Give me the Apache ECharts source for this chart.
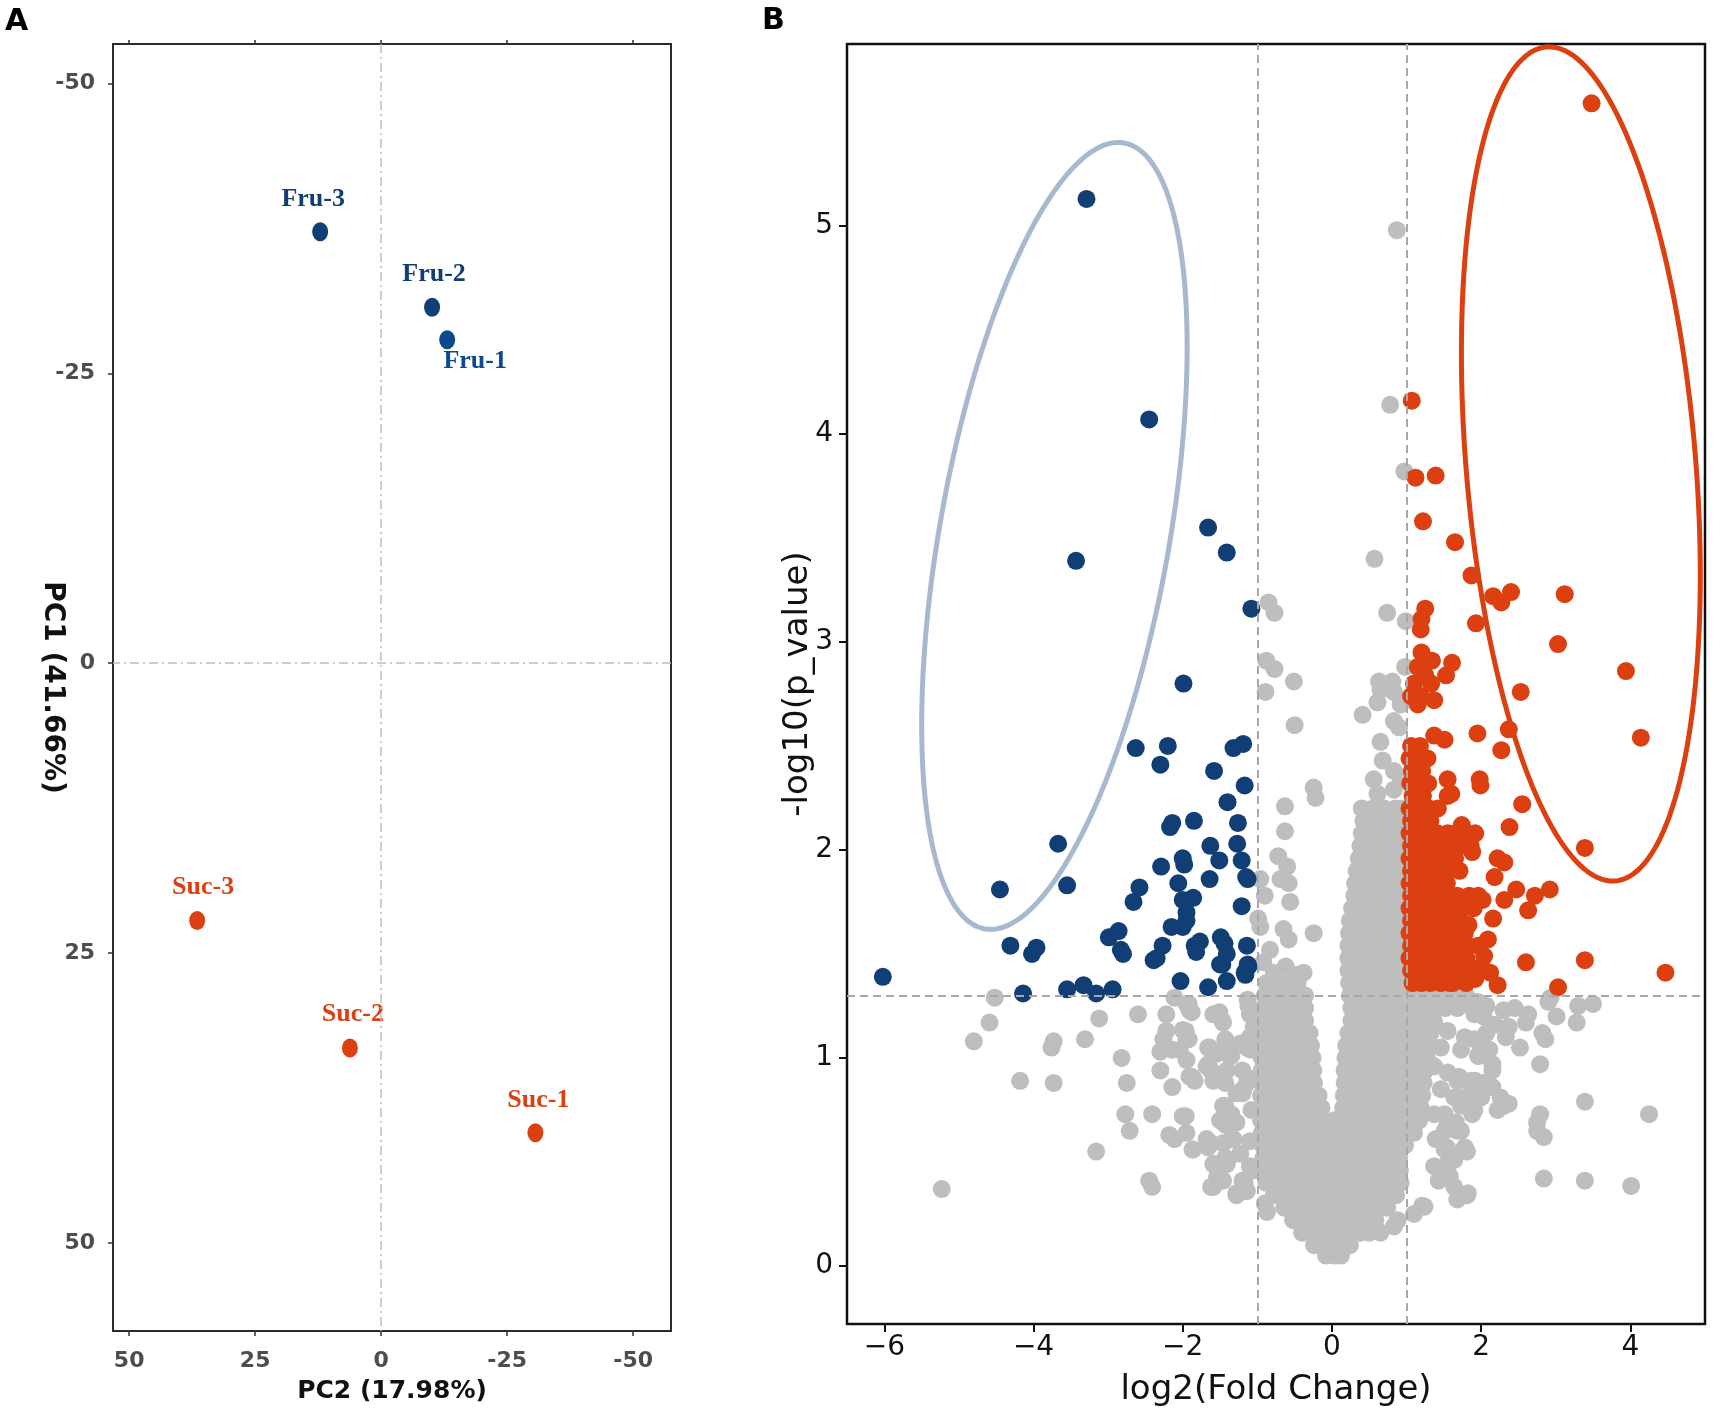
<!DOCTYPE html>
<html>
<head>
<meta charset="utf-8">
<script src="https://cdn.jsdelivr.net/npm/echarts@6.0.0/dist/echarts.min.js"></script>
<style>
html,body{margin:0;padding:0;background:#fff;}
#chart{width:1713px;height:1413px;}
</style>
</head>
<body>
<div id="chart"></div>
<script>
// ---------------- DATA ----------------
// Panel A: PCA scores
const pcaNames = ['Fru-1', 'Fru-2', 'Fru-3', 'Suc-1', 'Suc-2', 'Suc-3'];
const pcaPC2 = [-13.1, -10.1, 12.1, -30.6, 6.2, 36.5];
const pcaPC1 = [-27.9, -30.7, -37.2, 40.5, 33.2, 22.2];
const pcaTicks = [-50, -25, 0, 25, 50];

// Panel B: volcano plot  [log2FC, -log10(p)]
const volcanoXTicks = [-6, -4, -2, 0, 2, 4];
const volcanoYTicks = [0, 1, 2, 3, 4, 5];
const fcCut = [-1, 1];
const pCut = 1.301;

// down-regulated (blue)
const downPts = [
 [-3.29,5.13],[-2.45,4.07],[-3.43,3.39],[-1.66,3.55],[-1.41,3.43],[-1.08,3.16],[-1.99,2.80],
 [-2.63,2.49],[-2.20,2.50],[-2.30,2.41],[-1.32,2.49],[-1.19,2.51],[-1.58,2.38],[-1.17,2.31],
 [-1.40,2.23],[-1.26,2.13],[-2.14,2.13],[-2.17,2.11],[-1.85,2.14],[-1.63,2.02],[-1.27,2.03],
 [-1.51,1.95],[-2.00,1.96],[-1.98,1.93],[-2.29,1.92],[-1.21,1.95],[-1.15,1.87],[-1.13,1.86],
 [-1.64,1.86],[-2.06,1.84],[-2.58,1.82],[-2.66,1.75],[-2.00,1.76],[-1.86,1.77],[-1.21,1.73],
 [-1.95,1.70],[-1.95,1.66],[-2.15,1.63],[-2.00,1.63],[-2.86,1.61],[-2.99,1.58],[-2.83,1.52],
 [-2.27,1.54],[-2.39,1.47],[-1.84,1.54],[-1.77,1.56],[-1.49,1.58],[-1.44,1.55],[-1.41,1.50],
 [-1.14,1.54],[-1.50,1.45],[-1.12,1.44],[-1.16,1.40],[-1.41,1.37],[-2.03,1.37],[-1.66,1.34],
 [-4.45,1.81],[-3.67,2.03],[-3.55,1.83],[-4.31,1.54],[-4.02,1.50],[-3.96,1.53],[-6.02,1.39],
 [-4.14,1.31],[-3.55,1.33],[-3.33,1.35],[-3.16,1.31],[-2.94,1.33],[-2.80,1.50],[-2.35,1.48],
 [-1.47,1.45],[-1.17,1.41],[-1.13,1.45],[-1.82,1.51]
];

// up-regulated (red): isolated points
const upPts = [
 [3.48,5.59],[1.07,4.16],[1.12,3.79],[1.39,3.80],[1.22,3.58],[1.65,3.48],[1.87,3.32],
 [2.16,3.22],[2.27,3.19],[2.40,3.24],[3.12,3.23],[1.93,3.09],[1.25,3.16],[1.20,3.11],
 [1.19,3.06],[3.03,2.99],[1.20,2.95],[1.34,2.91],[1.61,2.90],[1.53,2.84],[1.15,2.88],
 [1.33,2.80],[1.37,2.72],[1.19,2.74],[1.06,2.74],[1.15,2.70],[3.94,2.86],[2.53,2.76],
 [4.14,2.54],[1.95,2.56],[2.37,2.58],[2.27,2.48],[1.37,2.55],[1.51,2.53],[1.98,2.34],
 [1.99,2.31],[2.55,2.22],[2.38,2.11],[3.39,2.01],[2.22,1.96],[2.31,1.94],[2.18,1.87],
 [2.92,1.81],[2.72,1.78],[2.63,1.71],[2.47,1.81],[2.31,1.76],[2.16,1.67],[2.02,1.76],
 [2.09,1.57],[2.60,1.46],[3.39,1.47],[4.47,1.41],[3.03,1.34],[2.22,1.35],[2.00,1.44],
 [1.78,1.41],[1.58,1.36],[1.55,2.34],[1.55,2.26],[1.60,2.27],[1.10,2.80],[1.25,2.84],
 [1.74,2.12],[1.88,1.99],[1.83,1.64],[2.04,1.49],[1.92,1.38],[2.12,1.41]
];
// up-regulated (red): dense block, rows of [y, x1, x2, ...]
const upRows = [
 [2.50, 1.06, 1.18],
 [2.44, 1.04, 1.16, 1.28],
 [2.38, 1.07, 1.21],
 [2.32, 1.05, 1.17, 1.29],
 [2.26, 1.08, 1.22],
 [2.20, 1.04, 1.16, 1.30, 1.42],
 [2.14, 1.06, 1.19, 1.32],
 [2.08, 1.04, 1.16, 1.28, 1.41, 1.55, 1.66, 1.80, 1.92],
 [2.02, 1.06, 1.18, 1.31, 1.44, 1.58, 1.72, 1.86],
 [1.96, 1.04, 1.16, 1.28, 1.41, 1.52, 1.65],
 [1.90, 1.06, 1.19, 1.31, 1.43, 1.57, 1.71],
 [1.84, 1.04, 1.16, 1.28, 1.40, 1.54],
 [1.78, 1.06, 1.18, 1.30, 1.43, 1.55, 1.68, 1.84, 1.96],
 [1.72, 1.04, 1.16, 1.29, 1.41, 1.52, 1.64, 1.76, 1.90],
 [1.66, 1.06, 1.18, 1.30, 1.42, 1.56, 1.70],
 [1.60, 1.04, 1.16, 1.28, 1.40, 1.52, 1.64, 1.78],
 [1.54, 1.06, 1.18, 1.31, 1.43, 1.54, 1.68, 1.82, 1.96],
 [1.48, 1.04, 1.16, 1.28, 1.40, 1.53, 1.66, 1.80],
 [1.42, 1.06, 1.18, 1.30, 1.42, 1.56, 1.72, 1.86],
 [1.36, 1.08, 1.20, 1.32, 1.46, 1.62, 1.80]
];

// not significant (gray): isolated points
const nsPts = [
 // above the p threshold
 [0.87,4.98],[0.78,4.14],[0.97,3.82],[0.57,3.40],[-0.85,3.19],[-0.77,3.14],[0.74,3.14],
 [0.99,3.10],[-0.88,2.91],[-0.77,2.87],[0.98,2.88],[-0.51,2.81],[0.63,2.81],[0.81,2.81],
 [-0.89,2.76],[-0.50,2.60],[0.65,2.77],[0.61,2.71],[0.83,2.76],[0.92,2.70],[0.41,2.65],
 [0.83,2.62],[0.90,2.59],[0.65,2.52],[0.68,2.43],[0.83,2.38],[0.92,2.35],[0.56,2.34],
 [0.61,2.27],[0.83,2.29],[0.47,2.18],[0.79,2.78],
 [-0.245,2.30],[-0.22,2.25],[-0.63,2.21],[-0.63,2.09],[-0.72,1.97],[-0.60,1.92],[-0.69,1.86],
 [-0.58,1.84],[-0.96,1.86],[-0.90,1.78],[-0.56,1.75],[-0.99,1.67],[-0.96,1.63],[-0.65,1.62],
 [-0.58,1.57],[-0.245,1.60],[-0.83,1.52],[-0.92,1.46],[-0.78,1.41],[-0.38,1.41],[-0.62,1.44],
 [-0.48,1.40],
 // left, below threshold
 [-4.52,1.29],[-4.59,1.17],[-4.80,1.08],[-5.23,0.37],[-4.18,0.89],[-3.73,0.88],[-3.76,1.05],
 [-3.73,1.08],[-3.31,1.09],[-3.12,1.19],[-3.16,0.55],[-2.82,1.00],[-2.75,0.88],[-2.71,0.65],
 [-2.77,0.73],[-2.60,1.21],[-2.41,0.73],[-2.45,0.41],[-2.41,0.38],[-2.30,0.94],[-2.14,0.86],
 [-2.18,0.63],[-2.11,1.29],[-2.22,1.21],[-2.22,1.13],[-2.26,1.09],[-2.14,1.04],[-2.30,1.03],
 [-1.96,1.13],[-1.92,1.09],[-2.04,1.04],[-1.92,1.26],[-1.88,1.22],[-2.11,0.61],[-1.96,0.72],
 [-1.88,0.91],[-1.84,0.89],[-1.87,0.56],[-1.66,0.97],[-1.62,0.94],[-1.66,1.05],[-1.66,0.57],
 [-1.62,0.59],[-1.58,0.49],[-1.54,0.43],[-1.62,0.38],[-1.43,1.09],[-1.47,1.18],[-1.51,1.22],
 [-1.43,1.04],[-1.35,1.01],[-1.43,0.88],[-1.43,0.77],[-1.35,0.73],[-1.43,0.68],[-1.35,0.61],
 [-1.43,0.52],[-1.40,0.51],[-1.28,0.34],[-1.20,0.41],[-1.17,0.40],[-1.20,0.83],[-1.20,0.94],
 [-1.09,1.04],[-1.05,1.15],[-1.13,1.28],[-1.12,1.25],[-0.90,0.30],[-0.87,0.26],
 [-1.95,1.26],[-1.91,1.23],[-2.00,1.135],[-1.95,1.09],[-1.59,1.21],[-1.46,1.17],[-1.64,1.05],
 [-1.55,1.02],[-1.37,1.01],[-1.95,0.99],[-1.91,0.91],[-1.68,0.96],[-1.59,0.89],[-1.41,0.94],
 [-1.23,1.07],[-1.14,1.05],[-1.28,0.83],[-1.19,0.85],[-1.14,0.88],[-1.46,0.77],[-1.50,0.70],
 [-1.37,0.72],[-1.28,0.69],[-2.00,0.72],[-1.95,0.64],[-1.68,0.61],[-1.86,0.56],[-1.46,0.59],
 [-1.32,0.61],[-1.59,0.49],[-1.41,0.49],[-1.23,0.54],[-1.10,0.48],[-1.59,0.38],[-1.46,0.41],
 [-1.28,0.35],[-1.14,0.36],[-1.10,1.21],[-1.01,1.17],[-1.10,0.60],[-1.08,0.75],[-1.06,0.90],
 [-1.10,1.10],[-1.05,0.46],
 // right, below threshold
 [1.24,0.285],[1.70,0.33],[1.81,0.34],[1.58,0.43],[1.43,0.41],[1.54,0.49],[1.62,0.54],
 [1.81,0.55],[1.54,0.57],[1.39,0.61],[1.51,0.65],[1.73,0.65],[1.66,0.69],[1.51,0.73],
 [1.88,0.73],[1.73,0.77],[1.70,0.81],[1.85,0.83],[2.00,0.81],[2.26,0.81],[2.30,0.77],
 [2.22,0.75],[2.37,0.78],[1.70,0.91],[1.92,0.89],[2.03,0.88],[2.15,0.86],[1.96,1.01],
 [2.11,1.04],[2.15,0.97],[2.15,0.94],[2.00,1.05],[2.07,1.12],[2.33,1.10],[2.52,1.05],
 [2.37,1.15],[2.18,1.16],[2.03,1.20],[1.96,1.24],[2.30,1.23],[2.45,1.24],[2.63,1.21],
 [2.60,1.17],[2.82,1.12],[2.86,1.09],[2.79,0.97],[3.01,1.20],[3.28,1.17],[2.90,1.27],
 [3.50,1.26],[2.93,1.29],[3.39,0.79],[4.25,0.73],[2.79,0.73],[2.75,0.69],[2.75,0.65],
 [2.84,0.62],[2.84,0.42],[3.39,0.41],[4.01,0.385],[3.30,1.25],[1.95,1.27],[2.07,1.25],
 [1.19,1.26],[1.37,1.28],[1.55,1.28],[1.78,1.26],[1.91,1.21],[1.37,1.17],[1.55,1.13],
 [1.78,1.10],[1.91,1.09],[1.46,1.05],[1.73,1.04],[1.96,1.01],[1.37,0.96],[1.55,0.93],
 [1.68,0.89],[1.86,0.89],[1.46,0.85],[1.64,0.81],[1.78,0.78],[1.91,0.75],[1.37,0.73],
 [1.55,0.69],[1.68,0.65],[1.78,0.57],[1.51,0.56],[1.64,0.51],[1.37,0.48],[1.55,0.45],
 [1.64,0.38],[1.82,0.35],[1.68,0.32],[1.21,0.29],[1.10,0.25],[0.88,0.22],[0.83,0.19],
 [0.65,0.16]
];
// not significant (gray): dense core, rows of [y, x1, x2, ...]
const nsRows = [
 [2.20, 0.40, 0.55, 0.70, 0.85, 0.95],
 [2.14, 0.42, 0.57, 0.72, 0.87],
 [2.08, 0.40, 0.54, 0.68, 0.82, 0.95],
 [2.02, 0.38, 0.52, 0.66, 0.80, 0.94],
 [1.96, 0.36, 0.50, 0.64, 0.78, 0.92],
 [1.90, 0.33, 0.47, 0.61, 0.75, 0.89, 0.97],
 [1.84, 0.31, 0.45, 0.59, 0.73, 0.87, 0.96],
 [1.78, 0.30, 0.44, 0.58, 0.72, 0.86, 0.96],
 [1.72, 0.27, 0.41, 0.55, 0.69, 0.83, 0.95],
 [1.66, 0.24, 0.38, 0.52, 0.66, 0.80, 0.94],
 [1.60, 0.23, 0.37, 0.51, 0.65, 0.79, 0.93],
 [1.54, 0.22, 0.36, 0.50, 0.64, 0.78, 0.92],
 [1.48, 0.22, 0.36, 0.50, 0.64, 0.78, 0.92],
 [1.42, 0.22, 0.36, 0.50, 0.64, 0.78, 0.92],
 [1.36, -0.88, -0.74, -0.60, -0.46, 0.23, 0.37, 0.51, 0.65, 0.79, 0.93],
 [1.30, -0.90, -0.76, -0.62, -0.48, -0.36, 0.24, 0.38, 0.52, 0.66, 0.80, 0.94, 1.08, 1.22, 1.36, 1.50, 1.64, 1.80],
 [1.24, -0.92, -0.78, -0.64, -0.50, -0.36, 0.26, 0.40, 0.54, 0.68, 0.82, 0.96, 1.10, 1.24, 1.38, 1.52, 1.68],
 [1.18, -0.92, -0.78, -0.64, -0.50, -0.36, 0.26, 0.40, 0.54, 0.68, 0.82, 0.96, 1.10, 1.24, 1.36],
 [1.12, -0.93, -0.79, -0.65, -0.51, -0.37, -0.30, 0.22, 0.36, 0.50, 0.64, 0.78, 0.92, 1.06, 1.20, 1.32],
 [1.06, -0.93, -0.79, -0.65, -0.51, -0.37, -0.28, 0.19, 0.33, 0.47, 0.61, 0.75, 0.89, 1.03, 1.17, 1.29],
 [1.00, -0.94, -0.80, -0.66, -0.52, -0.38, -0.26, 0.18, 0.32, 0.46, 0.60, 0.74, 0.88, 1.02, 1.16, 1.27],
 [0.94, -0.94, -0.80, -0.66, -0.52, -0.38, -0.25, 0.17, 0.31, 0.45, 0.59, 0.73, 0.87, 1.01, 1.14, 1.25],
 [0.88, -0.94, -0.80, -0.66, -0.52, -0.38, -0.24, 0.17, 0.31, 0.45, 0.59, 0.73, 0.87, 1.01, 1.13, 1.23],
 [0.82, -0.95, -0.81, -0.67, -0.53, -0.39, -0.25, -0.18, 0.16, 0.30, 0.44, 0.58, 0.72, 0.86, 1.00, 1.12, 1.21],
 [0.76, -0.95, -0.81, -0.67, -0.53, -0.39, -0.25, -0.14, 0.15, 0.29, 0.43, 0.57, 0.71, 0.85, 0.99, 1.10, 1.19],
 [0.70, -0.95, -0.81, -0.67, -0.53, -0.39, -0.25, -0.11, 0.03, 0.14, 0.28, 0.42, 0.56, 0.70, 0.84, 0.97, 1.08, 1.17],
 [0.64, -0.94, -0.80, -0.66, -0.52, -0.38, -0.24, -0.10, 0.04, 0.18, 0.32, 0.46, 0.60, 0.74, 0.88, 0.98, 1.10],
 [0.58, -0.93, -0.79, -0.65, -0.51, -0.37, -0.23, -0.09, 0.05, 0.19, 0.33, 0.47, 0.61, 0.75, 0.89, 0.98],
 [0.52, -0.92, -0.78, -0.64, -0.50, -0.36, -0.22, -0.08, 0.06, 0.20, 0.34, 0.48, 0.62, 0.76, 0.90],
 [0.46, -0.91, -0.77, -0.63, -0.49, -0.35, -0.21, -0.07, 0.07, 0.21, 0.35, 0.49, 0.63, 0.77, 0.91],
 [0.40, -0.88, -0.74, -0.60, -0.46, -0.32, -0.18, -0.04, 0.10, 0.24, 0.38, 0.52, 0.66, 0.80, 0.92],
 [0.34, -0.78, -0.64, -0.50, -0.36, -0.22, -0.08, 0.06, 0.20, 0.34, 0.48, 0.62, 0.76, 0.86],
 [0.28, -0.64, -0.50, -0.36, -0.22, -0.08, 0.06, 0.20, 0.34, 0.48, 0.62, 0.74],
 [0.22, -0.52, -0.38, -0.24, -0.10, 0.04, 0.18, 0.32, 0.46, 0.58],
 [0.16, -0.40, -0.27, -0.14, -0.01, 0.12, 0.25, 0.38, 0.50],
 [0.10, -0.24, -0.12, 0.00, 0.12, 0.24],
 [0.05, -0.08, 0.04, 0.12]
];

// highlight ellipses: centre and two conjugate semi-axis vectors (data units)
const ellipseDown = { c: [-3.72, 3.51], u: [1.779, 0.909], v: [0, 1.659] };
const ellipseUp = { c: [3.336, 3.856], u: [1.601, -0.534], v: [0, 1.933] };

// ---------------- STYLE ----------------
const C_BLUE = '#103e75', C_BLUE2 = '#0d4a8c', C_RED = '#dc4010', C_GRAY = '#bebebe';
const pcaColors = { 'Fru-1': C_BLUE2, 'Fru-2': C_BLUE, 'Fru-3': C_BLUE, 'Suc-1': C_RED, 'Suc-2': C_RED, 'Suc-3': C_RED };
const pcaLabelOffset = { 'Fru-1': [28, 22], 'Fru-2': [2, -33], 'Fru-3': [-7, -33], 'Suc-1': [3, -32], 'Suc-2': [3, -34], 'Suc-3': [6, -33] };

function rowsToPts(rows) {
  const out = [];
  rows.forEach(r => { for (let i = 1; i < r.length; i++) out.push([r[i], r[0]]); });
  return out;
}
const minus = v => (v < 0 ? '\u2212' + Math.abs(v) : String(v));

const chart = echarts.init(document.getElementById('chart'), null, { renderer: 'canvas', width: 1713, height: 1413 });

const aTickLabel = { fontFamily: 'DejaVu Sans', fontWeight: 'bold', fontSize: 22, color: '#4d4d4d' };
const bTickLabel = { fontFamily: 'DejaVu Sans', fontSize: 28, color: '#111' };

const option = {
  backgroundColor: '#ffffff',
  animation: false,
  graphic: [
    { type: 'text', left: 5, top: 7, style: { text: 'A', font: 'bold 30px "DejaVu Sans"', fill: '#000' } },
    { type: 'text', left: 762, top: 6, style: { text: 'B', font: 'bold 30px "DejaVu Sans"', fill: '#000' } }
  ],
  grid: [
    { left: 113, top: 44, width: 558, height: 1287, show: true, borderColor: '#2b2b2b', borderWidth: 2, backgroundColor: 'transparent' },
    { left: 847, top: 44, width: 858, height: 1280, show: true, borderColor: '#111', borderWidth: 2.5, backgroundColor: 'transparent' }
  ],
  xAxis: [
    {
      gridIndex: 0, type: 'value', inverse: true, min: -57.5, max: 53.2, position: 'bottom',
      axisLine: { show: false, onZero: false }, splitLine: { show: false },
      axisTick: { show: true, customValues: pcaTicks, length: 5, lineStyle: { color: '#333', width: 1.5 } },
      axisLabel: Object.assign({ customValues: pcaTicks, margin: 19 }, aTickLabel),
      name: 'PC2 (17.98%)', nameLocation: 'middle', nameGap: 48, nameMoveOverlap: false,
      nameTextStyle: { fontFamily: 'DejaVu Sans', fontWeight: 'bold', fontSize: 25, color: '#111' }
    },
    {
      gridIndex: 0, type: 'value', inverse: true, min: -57.5, max: 53.2, position: 'top',
      axisLine: { show: false, onZero: false }, splitLine: { show: false },
      axisTick: { show: true, customValues: pcaTicks, length: 4, lineStyle: { color: '#333', width: 1.5 } },
      axisLabel: { show: false }
    },
    {
      gridIndex: 1, type: 'value', min: -6.5, max: 5.0, position: 'bottom',
      axisLine: { show: false, onZero: false }, splitLine: { show: false },
      axisTick: { show: true, customValues: volcanoXTicks, length: 8, lineStyle: { color: '#111', width: 2 } },
      axisLabel: Object.assign({ customValues: volcanoXTicks, margin: 10, formatter: minus }, bTickLabel),
      name: 'log2(Fold Change)', nameLocation: 'middle', nameGap: 49, nameMoveOverlap: false,
      nameTextStyle: { fontFamily: 'DejaVu Sans', fontSize: 34, color: '#111' }
    }
  ],
  yAxis: [
    {
      gridIndex: 0, type: 'value', inverse: true, min: -53.4, max: 57.6,
      axisLine: { show: false, onZero: false }, splitLine: { show: false },
      axisTick: { show: true, customValues: pcaTicks, length: 5, lineStyle: { color: '#333', width: 1.5 } },
      axisLabel: Object.assign({ customValues: pcaTicks, margin: 18 }, aTickLabel),
      name: 'PC1 (41.66%)', nameLocation: 'middle', nameGap: 47, nameRotate: -90, nameMoveOverlap: false,
      nameTextStyle: { fontFamily: 'DejaVu Sans', fontWeight: 'bold', fontSize: 28, color: '#111' }
    },
    {
      gridIndex: 1, type: 'value', min: -0.279, max: 5.875,
      axisLine: { show: false, onZero: false }, splitLine: { show: false },
      axisTick: { show: true, customValues: volcanoYTicks, length: 8, lineStyle: { color: '#111', width: 2 } },
      axisLabel: Object.assign({ customValues: volcanoYTicks, margin: 14 }, bTickLabel),
      name: '-log10(p_value)', nameLocation: 'middle', nameGap: 32, nameMoveOverlap: false,
      nameTextStyle: { fontFamily: 'DejaVu Sans', fontSize: 34, color: '#111' }
    }
  ],
  series: [
    // Panel A reference lines
    {
      type: 'scatter', xAxisIndex: 0, yAxisIndex: 0, data: [], z: 1, silent: true,
      markLine: {
        silent: true, symbol: ['none', 'none'], label: { show: false }, animation: false,
        lineStyle: { color: '#bdbdbd', width: 1.5, type: [9, 4, 2, 4] },
        data: [{ xAxis: 0 }, { yAxis: 0 }]
      }
    },
    // Panel A samples
    {
      type: 'scatter', xAxisIndex: 0, yAxisIndex: 0, z: 3, silent: true,
      symbol: 'circle', symbolSize: [16, 19],
      data: pcaNames.map((n, i) => ({
        value: [pcaPC2[i], pcaPC1[i]], name: n,
        itemStyle: { color: pcaColors[n], opacity: 1 },
        label: { show: true, position: 'inside', offset: pcaLabelOffset[n], formatter: n, color: pcaColors[n],
                 fontFamily: 'Liberation Serif', fontWeight: 'bold', fontSize: 26 }
      }))
    },
    // Panel B: not significant
    {
      type: 'scatter', xAxisIndex: 2, yAxisIndex: 1, z: 2, silent: true,
      symbol: 'circle', symbolSize: 18, itemStyle: { color: C_GRAY, opacity: 1 },
      data: rowsToPts(nsRows).concat(nsPts)
    },
    // Panel B: up
    {
      type: 'scatter', xAxisIndex: 2, yAxisIndex: 1, z: 3, silent: true,
      symbol: 'circle', symbolSize: 18, itemStyle: { color: C_RED, opacity: 1 },
      data: rowsToPts(upRows).concat(upPts)
    },
    // Panel B: down
    {
      type: 'scatter', xAxisIndex: 2, yAxisIndex: 1, z: 3, silent: true,
      symbol: 'circle', symbolSize: 18, itemStyle: { color: C_BLUE, opacity: 1 },
      data: downPts
    },
    // Panel B thresholds
    {
      type: 'scatter', xAxisIndex: 2, yAxisIndex: 1, data: [], z: 4, silent: true,
      markLine: {
        silent: true, symbol: ['none', 'none'], label: { show: false }, animation: false,
        lineStyle: { color: '#a8a8a8', width: 2, type: [8, 5] },
        data: [{ xAxis: fcCut[0] }, { xAxis: fcCut[1] }, { yAxis: pCut }]
      }
    },
    // Panel B highlight ellipses
    {
      type: 'custom', xAxisIndex: 2, yAxisIndex: 1, z: 5, silent: true,
      data: [[ellipseDown.c[0], ellipseDown.c[1], 0], [ellipseUp.c[0], ellipseUp.c[1], 1]],
      renderItem: function (params, api) {
        const idx = api.value(2);
        const e = idx === 0 ? ellipseDown : ellipseUp;
        const pts = [];
        const N = 180;
        for (let k = 0; k <= N; k++) {
          const t = (k / N) * Math.PI * 2;
          const x = e.c[0] + e.u[0] * Math.cos(t) + e.v[0] * Math.sin(t);
          const y = e.c[1] + e.u[1] * Math.cos(t) + e.v[1] * Math.sin(t);
          pts.push(api.coord([x, y]));
        }
        return {
          type: 'polyline', shape: { points: pts },
          style: { stroke: idx === 0 ? '#a7b8cf' : C_RED, lineWidth: 5, fill: null, lineJoin: 'round' }
        };
      }
    }
  ]
};
chart.setOption(option);
</script>
</body>
</html>
